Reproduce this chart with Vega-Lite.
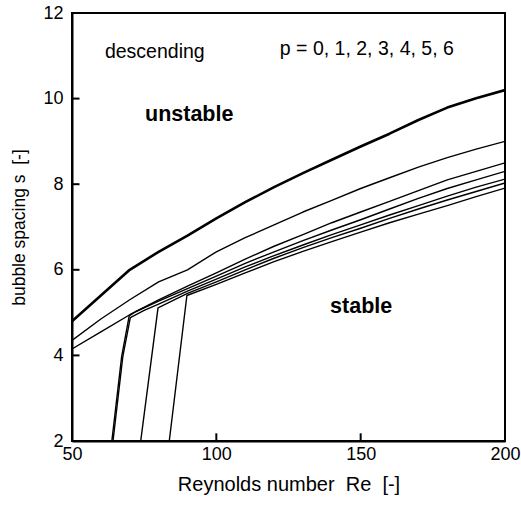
{
  "$schema": "https://vega.github.io/schema/vega-lite/v6.json",
  "width": 433,
  "height": 428,
  "autosize": "none",
  "padding": {"left": 72, "top": 13, "right": 16, "bottom": 69},
  "background": "white",
  "config": {
    "font": "Liberation Sans",
    "view": {"stroke": "black", "strokeWidth": 2},
    "axis": {
      "grid": false,
      "ticks": false,
      "domainColor": "black",
      "domainWidth": 2,
      "labelColor": "black",
      "labelFont": "Liberation Sans",
      "labelFontSize": 18,
      "titleColor": "black",
      "titleFont": "Liberation Sans",
      "titleFontWeight": "normal"
    }
  },
  "layer": [
    {
      "data": {
        "values": [
          {"p": 0, "Re": 50, "s": 4.8}, {"p": 0, "Re": 60, "s": 5.4}, {"p": 0, "Re": 70, "s": 6.0},
          {"p": 0, "Re": 80, "s": 6.42}, {"p": 0, "Re": 90, "s": 6.8}, {"p": 0, "Re": 100, "s": 7.2}, {"p": 0, "Re": 110, "s": 7.58},
          {"p": 0, "Re": 120, "s": 7.93}, {"p": 0, "Re": 130, "s": 8.26}, {"p": 0, "Re": 140, "s": 8.57}, {"p": 0, "Re": 150, "s": 8.88},
          {"p": 0, "Re": 160, "s": 9.18}, {"p": 0, "Re": 170, "s": 9.5}, {"p": 0, "Re": 180, "s": 9.79}, {"p": 0, "Re": 190, "s": 10.01},
          {"p": 0, "Re": 200, "s": 10.2},
          {"p": 1, "Re": 50, "s": 4.35}, {"p": 1, "Re": 60, "s": 4.85}, {"p": 1, "Re": 70, "s": 5.3}, {"p": 1, "Re": 80, "s": 5.72},
          {"p": 1, "Re": 90, "s": 6.0}, {"p": 1, "Re": 100, "s": 6.42}, {"p": 1, "Re": 110, "s": 6.75}, {"p": 1, "Re": 120, "s": 7.05},
          {"p": 1, "Re": 130, "s": 7.35}, {"p": 1, "Re": 140, "s": 7.62}, {"p": 1, "Re": 150, "s": 7.9}, {"p": 1, "Re": 160, "s": 8.15},
          {"p": 1, "Re": 170, "s": 8.4}, {"p": 1, "Re": 180, "s": 8.62}, {"p": 1, "Re": 190, "s": 8.82}, {"p": 1, "Re": 200, "s": 9.0},
          {"p": 2, "Re": 50, "s": 4.15}, {"p": 2, "Re": 60, "s": 4.55}, {"p": 2, "Re": 70, "s": 4.95}, {"p": 2, "Re": 80, "s": 5.3},
          {"p": 2, "Re": 90, "s": 5.62}, {"p": 2, "Re": 100, "s": 5.93}, {"p": 2, "Re": 110, "s": 6.25}, {"p": 2, "Re": 120, "s": 6.55},
          {"p": 2, "Re": 130, "s": 6.82}, {"p": 2, "Re": 140, "s": 7.1}, {"p": 2, "Re": 150, "s": 7.35}, {"p": 2, "Re": 160, "s": 7.6},
          {"p": 2, "Re": 170, "s": 7.85}, {"p": 2, "Re": 180, "s": 8.1}, {"p": 2, "Re": 190, "s": 8.3}, {"p": 2, "Re": 200, "s": 8.5},
          {"p": 3, "Re": 63.8, "s": 2}, {"p": 3, "Re": 67.2, "s": 3.97}, {"p": 3, "Re": 69.8, "s": 4.92}, {"p": 3, "Re": 72, "s": 5.02},
          {"p": 3, "Re": 80, "s": 5.27}, {"p": 3, "Re": 90, "s": 5.56}, {"p": 3, "Re": 100, "s": 5.85}, {"p": 3, "Re": 110, "s": 6.15},
          {"p": 3, "Re": 120, "s": 6.42}, {"p": 3, "Re": 130, "s": 6.68}, {"p": 3, "Re": 140, "s": 6.93}, {"p": 3, "Re": 150, "s": 7.17},
          {"p": 3, "Re": 160, "s": 7.42}, {"p": 3, "Re": 170, "s": 7.67}, {"p": 3, "Re": 180, "s": 7.9}, {"p": 3, "Re": 190, "s": 8.1},
          {"p": 3, "Re": 200, "s": 8.3},
          {"p": 4, "Re": 64.2, "s": 2}, {"p": 4, "Re": 67.6, "s": 3.97}, {"p": 4, "Re": 70.2, "s": 4.88}, {"p": 4, "Re": 75, "s": 5.05},
          {"p": 4, "Re": 80, "s": 5.2}, {"p": 4, "Re": 90, "s": 5.5}, {"p": 4, "Re": 100, "s": 5.78}, {"p": 4, "Re": 110, "s": 6.07},
          {"p": 4, "Re": 120, "s": 6.33}, {"p": 4, "Re": 130, "s": 6.58}, {"p": 4, "Re": 140, "s": 6.82}, {"p": 4, "Re": 150, "s": 7.05},
          {"p": 4, "Re": 160, "s": 7.28}, {"p": 4, "Re": 170, "s": 7.5}, {"p": 4, "Re": 180, "s": 7.72}, {"p": 4, "Re": 190, "s": 7.93},
          {"p": 4, "Re": 200, "s": 8.12},
          {"p": 5, "Re": 73.8, "s": 2}, {"p": 5, "Re": 79.8, "s": 5.11}, {"p": 5, "Re": 90, "s": 5.45}, {"p": 5, "Re": 100, "s": 5.72},
          {"p": 5, "Re": 110, "s": 6.0}, {"p": 5, "Re": 120, "s": 6.27}, {"p": 5, "Re": 130, "s": 6.52}, {"p": 5, "Re": 140, "s": 6.75},
          {"p": 5, "Re": 150, "s": 6.97}, {"p": 5, "Re": 160, "s": 7.2}, {"p": 5, "Re": 170, "s": 7.42}, {"p": 5, "Re": 180, "s": 7.63},
          {"p": 5, "Re": 190, "s": 7.83}, {"p": 5, "Re": 200, "s": 8.03},
          {"p": 6, "Re": 83.7, "s": 2}, {"p": 6, "Re": 89.8, "s": 5.4}, {"p": 6, "Re": 100, "s": 5.66}, {"p": 6, "Re": 110, "s": 5.93},
          {"p": 6, "Re": 120, "s": 6.19}, {"p": 6, "Re": 130, "s": 6.43}, {"p": 6, "Re": 140, "s": 6.66}, {"p": 6, "Re": 150, "s": 6.88},
          {"p": 6, "Re": 160, "s": 7.1}, {"p": 6, "Re": 170, "s": 7.3}, {"p": 6, "Re": 180, "s": 7.5}, {"p": 6, "Re": 190, "s": 7.71},
          {"p": 6, "Re": 200, "s": 7.91}
        ]
      },
      "mark": {"type": "line", "color": "black", "strokeJoin": "round", "clip": true},
      "encoding": {
        "x": {
          "field": "Re", "type": "quantitative",
          "scale": {"domain": [50, 200], "nice": false, "zero": false},
          "axis": {"values": [50, 100, 150, 200], "title": "Reynolds number\u00a0 Re\u00a0 [-]", "titleFontSize": 20,
                   "labelPadding": 4, "titlePadding": 11, "labelFlush": false}
        },
        "y": {
          "field": "s", "type": "quantitative",
          "scale": {"domain": [2, 12], "nice": false, "zero": false},
          "axis": {"values": [2, 4, 6, 8, 10, 12], "title": "bubble spacing s\u00a0 [-]", "titleFontSize": 17.5,
                   "labelPadding": 9, "titlePadding": 14, "labelFlush": false}
        },
        "detail": {"field": "p", "type": "nominal"},
        "strokeWidth": {"condition": {"test": "datum.p == 0", "value": 2.6}, "value": 1.4}
      }
    },
    {
      "data": {"values": [{"Re": 100}, {"Re": 150}]},
      "mark": {"type": "rule", "color": "black", "strokeWidth": 2},
      "encoding": {
        "x": {"field": "Re", "type": "quantitative"},
        "y": {"datum": 2},
        "y2": {"datum": 2.18}
      }
    },
    {
      "data": {"values": [{"s": 4}, {"s": 6}, {"s": 8}, {"s": 10}]},
      "mark": {"type": "rule", "color": "black", "strokeWidth": 2},
      "encoding": {
        "y": {"field": "s", "type": "quantitative"},
        "x": {"datum": 50},
        "x2": {"datum": 52.6}
      }
    },
    {
      "data": {
        "values": [
          {"label": "descending", "Re": 61.4, "s": 11.09},
          {"label": "p = 0, 1, 2, 3, 4, 5, 6", "Re": 122, "s": 11.16}
        ]
      },
      "mark": {"type": "text", "align": "left", "baseline": "middle", "fontSize": 19.5, "font": "Liberation Sans", "color": "black"},
      "encoding": {
        "x": {"field": "Re", "type": "quantitative"},
        "y": {"field": "s", "type": "quantitative"},
        "text": {"field": "label"}
      }
    },
    {
      "data": {
        "values": [
          {"label": "unstable", "Re": 75.3, "s": 9.62},
          {"label": "stable", "Re": 139.4, "s": 5.13}
        ]
      },
      "mark": {"type": "text", "align": "left", "baseline": "middle", "fontSize": 21.5, "fontWeight": "bold", "font": "Liberation Sans", "color": "black"},
      "encoding": {
        "x": {"field": "Re", "type": "quantitative"},
        "y": {"field": "s", "type": "quantitative"},
        "text": {"field": "label"}
      }
    }
  ]
}
